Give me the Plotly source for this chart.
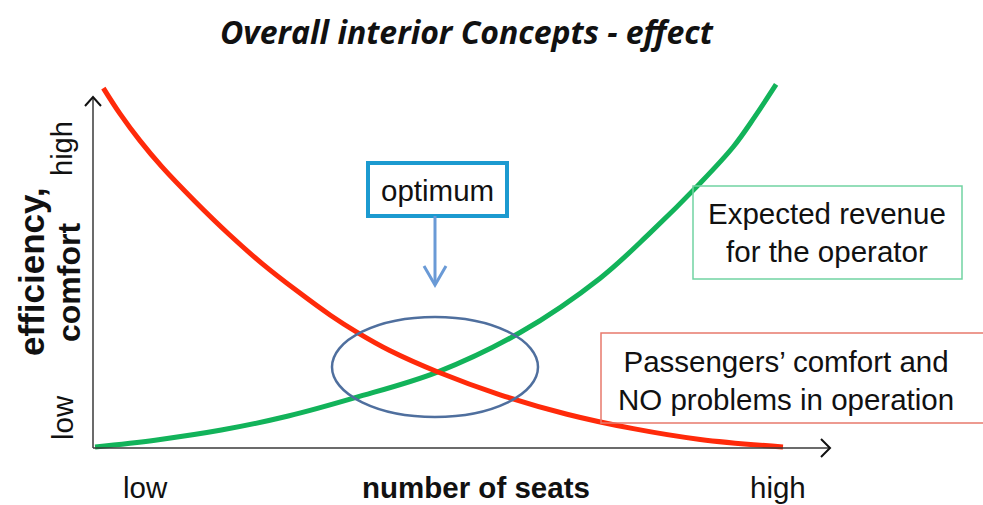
import plotly.graph_objects as go

W, H = 983, 505

# ---- data (conceptual units: x 0..10 seats low->high, y 0..10 low->high) ----
revenue_x = [0.03, 0.90, 1.86, 2.83, 3.80, 4.99, 6.19, 7.35, 8.07, 8.80, 9.28, 9.59, 9.90]
revenue_y = [0.00, 0.19, 0.47, 0.86, 1.37, 2.08, 3.18, 4.69, 5.94, 7.33, 8.34, 9.17, 10.07]

comfort_x = [0.15, 0.39, 0.68, 1.00, 1.48, 1.97, 2.46, 2.96, 3.44, 3.84, 4.30, 4.99, 5.90, 6.87, 7.83, 8.80, 10.0]
comfort_y = [9.97, 9.26, 8.51, 7.78, 6.82, 5.91, 5.08, 4.33, 3.66, 3.17, 2.68, 2.09, 1.45, 0.91, 0.51, 0.21, 0.0]

title_text = "Overall interior Concepts - effect"
x_tick_labels = ["low", "high"]
y_tick_labels = ["low", "high"]
x_title = "number of seats"
y_title = ["efficiency,", "comfort"]
optimum_label = "optimum"
revenue_label = "Expected revenue<br>for the operator"
comfort_label = "Passengers’ comfort and<br>NO problems in operation"

# ---- pixel mapping helpers (figure == plot area) ----
X0_PX, X10_PX = 93, 783
Y0_PX, Y10_PX = 447, 87
ux = (X10_PX - X0_PX) / 10.0
uy = (Y0_PX - Y10_PX) / 10.0
x_range = [-X0_PX / ux, (W - X0_PX) / ux]
y_range = [-(H - Y0_PX) / uy, Y0_PX / uy]


def px(x):
    return x / W


def py(y):
    return 1 - y / H


RED = "#FF2A0A"
GREEN = "#12B35A"
FONT = "Liberation Sans, Arial, sans-serif"

fig = go.Figure()
fig.add_trace(go.Scatter(x=revenue_x, y=revenue_y, mode="lines",
                         line=dict(color=GREEN, width=5, shape="spline", smoothing=1.0),
                         hoverinfo="skip", showlegend=False))
fig.add_trace(go.Scatter(x=comfort_x, y=comfort_y, mode="lines",
                         line=dict(color=RED, width=5, shape="spline", smoothing=1.0),
                         hoverinfo="skip", showlegend=False))

shapes = []
AX = "#3a3a3a"
# axes
shapes.append(dict(type="line", xref="paper", yref="paper", x0=px(93), y0=py(448), x1=px(830), y1=py(448),
                   line=dict(color=AX, width=1.5)))
shapes.append(dict(type="line", xref="paper", yref="paper", x0=px(93), y0=py(448), x1=px(93), y1=py(97),
                   line=dict(color=AX, width=1.5)))
# arrow heads (open chevrons)
shapes.append(dict(type="path", xref="paper", yref="paper",
                   path=f"M {px(821)} {py(439)} L {px(830)} {py(448)} L {px(821)} {py(457)}",
                   line=dict(color="#111", width=2)))
shapes.append(dict(type="path", xref="paper", yref="paper",
                   path=f"M {px(85)} {py(106)} L {px(93)} {py(97)} L {px(101)} {py(106)}",
                   line=dict(color="#111", width=2)))
# ellipse around optimum
shapes.append(dict(type="circle", xref="paper", yref="paper", x0=px(332), y0=py(317), x1=px(538), y1=py(417),
                   line=dict(color="#4F6F9E", width=2.5)))
# optimum box
shapes.append(dict(type="rect", xref="paper", yref="paper", x0=px(368), y0=py(163), x1=px(507), y1=py(216),
                   line=dict(color="#1C9AD0", width=4)))
# optimum arrow
shapes.append(dict(type="line", xref="paper", yref="paper", x0=px(435), y0=py(216), x1=px(435), y1=py(284),
                   line=dict(color="#6A9AD6", width=3)))
shapes.append(dict(type="path", xref="paper", yref="paper",
                   path=f"M {px(424)} {py(266)} L {px(435)} {py(285)} L {px(446)} {py(266)}",
                   line=dict(color="#6A9AD6", width=3)))
# label boxes
shapes.append(dict(type="rect", xref="paper", yref="paper", x0=px(693), y0=py(186), x1=px(962), y1=py(279),
                   line=dict(color="#72D3A2", width=1.5)))
shapes.append(dict(type="rect", xref="paper", yref="paper", x0=px(601), y0=py(333), x1=px(1000), y1=py(423),
                   line=dict(color="#E87A6C", width=1.5)))

ann = []


def text(t, x, y, size, bold=False, angle=0, family=FONT, color="#111"):
    ann.append(dict(text=f"<b>{t}</b>" if bold else t, xref="paper", yref="paper",
                    x=px(x), y=py(y), xanchor="center", yanchor="middle",
                    showarrow=False, textangle=angle,
                    font=dict(family=family, size=size, color=color)))


text(f"<i>{title_text}</i>", 467, 31, 32, bold=True, family="Open Sans, sans-serif")
text(optimum_label, 437, 190, 29.5)
text(revenue_label, 827, 233, 29.5)
text(comfort_label, 786, 380, 29.5)
text(x_tick_labels[0], 145, 487, 29.5)
text(x_tick_labels[1], 778, 487, 29.5)
text(x_title, 476, 487, 29.5, bold=True)
text(y_tick_labels[1], 62, 148, 29, angle=-90)
text(y_tick_labels[0], 62, 417, 29.5, angle=-90)
text(y_title[0], 31, 272, 35, bold=True, angle=-90)
text(y_title[1], 69, 283, 32, bold=True, angle=-90)

fig.update_layout(
    width=W, height=H,
    margin=dict(l=0, r=0, t=0, b=0),
    paper_bgcolor="white", plot_bgcolor="white",
    xaxis=dict(range=x_range, visible=False, fixedrange=True),
    yaxis=dict(range=y_range, visible=False, fixedrange=True),
    shapes=shapes, annotations=ann, showlegend=False,
)
fig.write_html("out.html", config={"displayModeBar": False},
               post_script="document.body.style.margin='0px';document.body.style.overflow='hidden';")
